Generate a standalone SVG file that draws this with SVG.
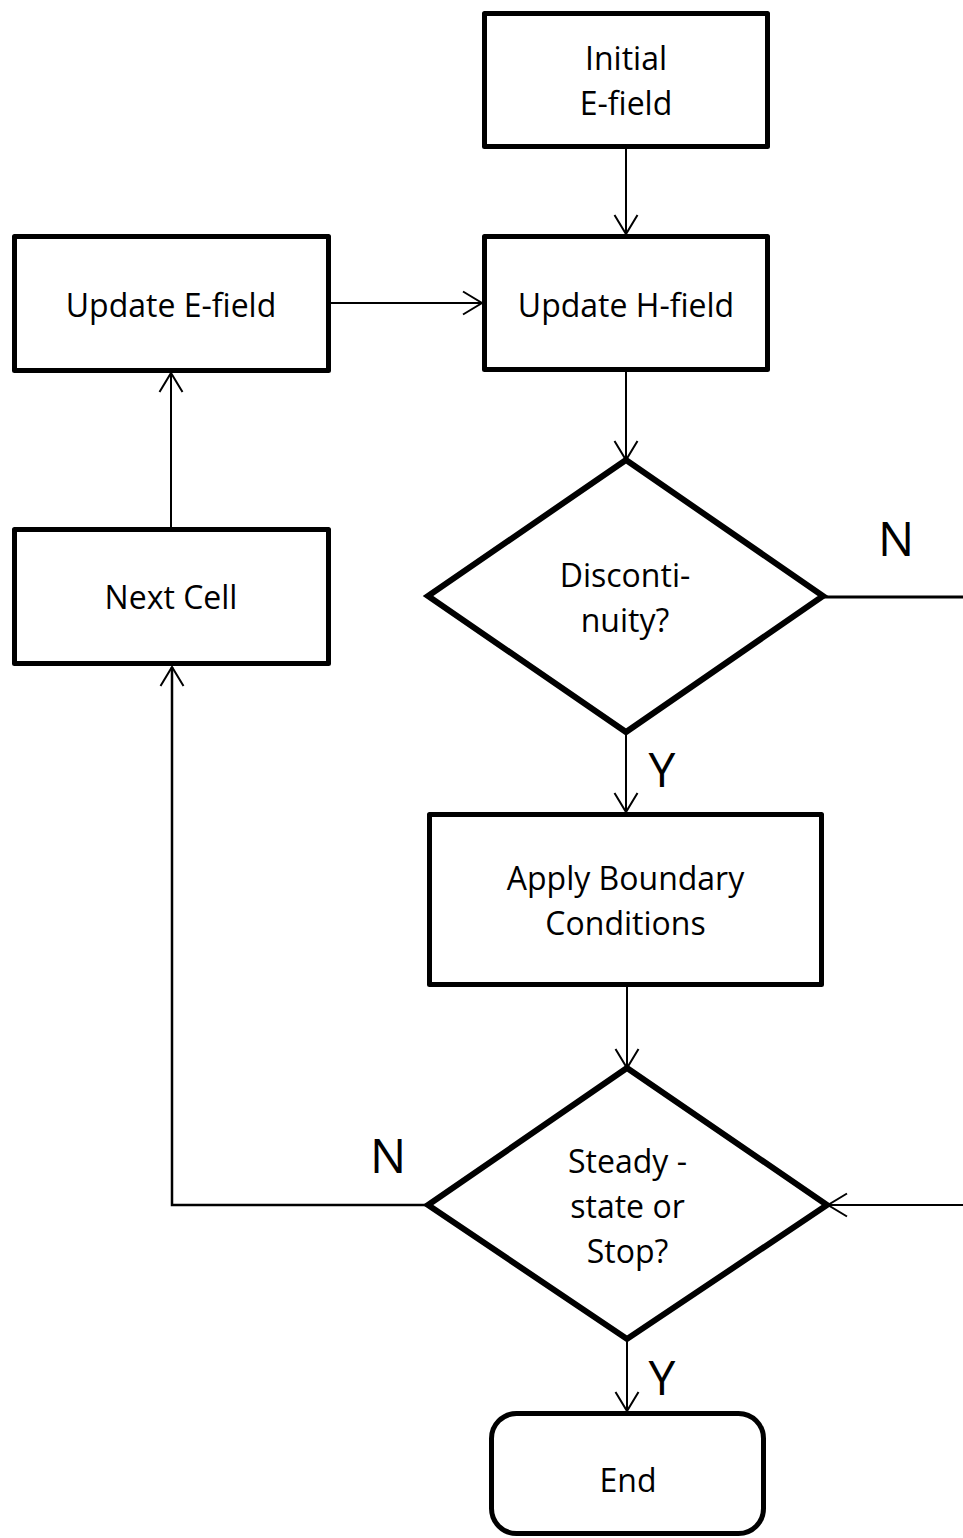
<svg xmlns="http://www.w3.org/2000/svg" width="963" height="1538" viewBox="0 0 963 1538">
<style>
.box{fill:#fff;stroke:#000;stroke-width:5;stroke-linejoin:round}
.dia{fill:#fff;stroke:#000;stroke-width:6;stroke-linejoin:miter}
.t{font-family:"Open Sans","Noto Sans",sans-serif;font-size:32px;fill:#000;text-anchor:middle}
.lbl{font-family:"Open Sans","Noto Sans",sans-serif;font-size:48px;fill:#000;text-anchor:middle}
.c{fill:none;stroke:#000;stroke-width:2}
</style>
<defs>
<marker id="arr" markerUnits="userSpaceOnUse" markerWidth="40" markerHeight="40" viewBox="-30 -20 40 40" refX="0" refY="0" orient="auto" overflow="visible">
<path d="M -19 -11.5 L 0 0 L -19 11.5" fill="none" stroke="#000" stroke-width="2"/>
</marker>
</defs>
<rect width="963" height="1538" fill="#fff"/>
<g id="connectors">
<line class="c" x1="626" y1="149" x2="626" y2="234" marker-end="url(#arr)"/>
<line class="c" x1="331" y1="303" x2="482" y2="303" marker-end="url(#arr)"/>
<line class="c" x1="626" y1="372" x2="626" y2="460" marker-end="url(#arr)"/>
<line class="c" x1="823" y1="597" x2="963" y2="597" style="stroke-width:3"/>
<line class="c" x1="626" y1="732" x2="626" y2="812" marker-end="url(#arr)"/>
<line class="c" x1="627" y1="987" x2="627" y2="1068" marker-end="url(#arr)"/>
<line class="c" x1="963" y1="1205" x2="828" y2="1205" marker-end="url(#arr)"/>
<polyline class="c" points="428,1205 172,1205 172,667" marker-end="url(#arr)" style="stroke-width:2.5"/>
<line class="c" x1="171" y1="528" x2="171" y2="373" marker-end="url(#arr)"/>
<line class="c" x1="627" y1="1339" x2="627" y2="1411" marker-end="url(#arr)"/>
<text class="lbl" x="896" y="556">N</text>
<text class="lbl" x="662" y="787">Y</text>
<text class="lbl" x="388" y="1173">N</text>
<text class="lbl" x="662" y="1395">Y</text>
</g>
<g id="initial">
<rect class="box" x="484.5" y="13.5" width="283" height="133"/>
<text class="t" x="626" y="70">Initial</text>
<text class="t" x="626" y="115">E-field</text>
</g>
<g id="update-h">
<rect class="box" x="484.5" y="236.5" width="283" height="133"/>
<text class="t" x="626" y="317">Update H-field</text>
</g>
<g id="update-e">
<rect class="box" x="14.5" y="236.5" width="314" height="134"/>
<text class="t" x="171" y="317">Update E-field</text>
</g>
<g id="next-cell">
<rect class="box" x="14.5" y="529.5" width="314" height="134"/>
<text class="t" x="171" y="609">Next Cell</text>
</g>
<g id="discontinuity">
<polygon class="dia" points="626,460 823,596 626,732 428,596"/>
<text class="t" x="625" y="587">Disconti-</text>
<text class="t" x="625" y="632">nuity?</text>
</g>
<g id="apply-bc">
<rect class="box" x="429.5" y="814.5" width="392" height="170"/>
<text class="t" x="625.5" y="890">Apply Boundary</text>
<text class="t" x="625.5" y="935">Conditions</text>
</g>
<g id="steady">
<polygon class="dia" points="627,1068 827,1205 627,1339 428,1205"/>
<text class="t" x="627.5" y="1173">Steady -</text>
<text class="t" x="627.5" y="1218">state or</text>
<text class="t" x="627.5" y="1263">Stop?</text>
</g>
<g id="end">
<rect class="box" x="491.5" y="1413.5" width="272" height="120" rx="25" ry="25"/>
<text class="t" x="628" y="1492">End</text>
</g>
</svg>
